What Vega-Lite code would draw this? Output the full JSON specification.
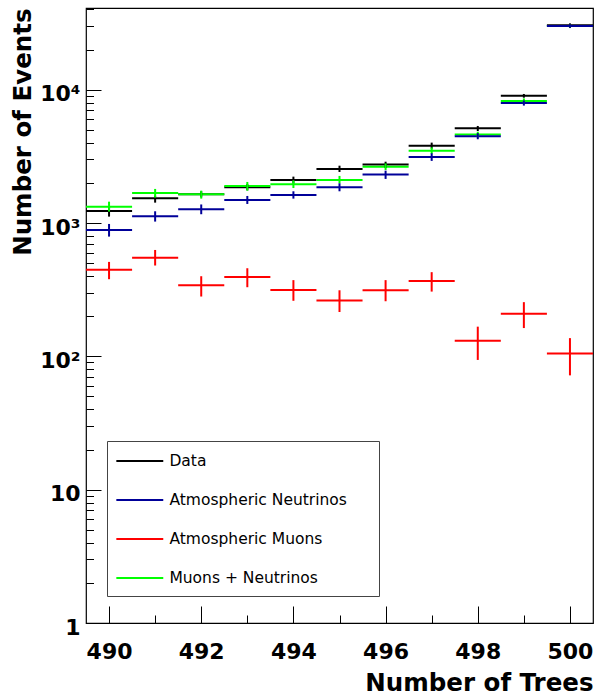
{
  "$schema": "https://vega.github.io/schema/vega-lite/v6.json",
  "autosize": "none",
  "width": 507,
  "height": 615,
  "padding": {"left": 86, "top": 8, "right": 4, "bottom": 74},
  "background": "white",
  "data": {
    "values": [
      {"series": "Data", "bin": 490, "x0": 489.5, "x1": 490.5, "value": 1233, "lo": 1117, "hi": 1321},
      {"series": "Data", "bin": 491, "x0": 490.5, "x1": 491.5, "value": 1535, "lo": 1422, "hi": 1603},
      {"series": "Data", "bin": 492, "x0": 491.5, "x1": 492.5, "value": 1643, "lo": 1560, "hi": 1730},
      {"series": "Data", "bin": 493, "x0": 492.5, "x1": 493.5, "value": 1855, "lo": 1760, "hi": 1960},
      {"series": "Data", "bin": 494, "x0": 493.5, "x1": 494.5, "value": 2104, "lo": 1987, "hi": 2228},
      {"series": "Data", "bin": 495, "x0": 494.5, "x1": 495.5, "value": 2546, "lo": 2415, "hi": 2692},
      {"series": "Data", "bin": 496, "x0": 495.5, "x1": 496.5, "value": 2742, "lo": 2588, "hi": 2884},
      {"series": "Data", "bin": 497, "x0": 496.5, "x1": 497.5, "value": 3802, "lo": 3610, "hi": 4009},
      {"series": "Data", "bin": 498, "x0": 497.5, "x1": 498.5, "value": 5139, "lo": 4900, "hi": 5346},
      {"series": "Data", "bin": 499, "x0": 498.5, "x1": 499.5, "value": 9020, "lo": 8710, "hi": 9290},
      {"series": "Data", "bin": 500, "x0": 499.5, "x1": 500.5, "value": 30400, "lo": 29000, "hi": 31450},
      {"series": "Muons + Neutrinos", "bin": 490, "x0": 489.5, "x1": 490.5, "value": 1327, "lo": 1218, "hi": 1446},
      {"series": "Muons + Neutrinos", "bin": 491, "x0": 490.5, "x1": 491.5, "value": 1682, "lo": 1551, "hi": 1802},
      {"series": "Muons + Neutrinos", "bin": 492, "x0": 491.5, "x1": 492.5, "value": 1643, "lo": 1524, "hi": 1749},
      {"series": "Muons + Neutrinos", "bin": 493, "x0": 492.5, "x1": 493.5, "value": 1897, "lo": 1749, "hi": 2033},
      {"series": "Muons + Neutrinos", "bin": 494, "x0": 493.5, "x1": 494.5, "value": 1955, "lo": 1830, "hi": 2090},
      {"series": "Muons + Neutrinos", "bin": 495, "x0": 494.5, "x1": 495.5, "value": 2104, "lo": 1987, "hi": 2256},
      {"series": "Muons + Neutrinos", "bin": 496, "x0": 495.5, "x1": 496.5, "value": 2648, "lo": 2500, "hi": 2800},
      {"series": "Muons + Neutrinos", "bin": 497, "x0": 496.5, "x1": 497.5, "value": 3490, "lo": 3300, "hi": 3690},
      {"series": "Muons + Neutrinos", "bin": 498, "x0": 497.5, "x1": 498.5, "value": 4603, "lo": 4380, "hi": 4840},
      {"series": "Muons + Neutrinos", "bin": 499, "x0": 498.5, "x1": 499.5, "value": 8230, "lo": 7880, "hi": 8600},
      {"series": "Muons + Neutrinos", "bin": 500, "x0": 499.5, "x1": 500.5, "value": 30000, "lo": 29300, "hi": 30700},
      {"series": "Atmospheric Neutrinos", "bin": 490, "x0": 489.5, "x1": 490.5, "value": 888, "lo": 791, "hi": 984},
      {"series": "Atmospheric Neutrinos", "bin": 491, "x0": 490.5, "x1": 491.5, "value": 1125, "lo": 1025, "hi": 1225},
      {"series": "Atmospheric Neutrinos", "bin": 492, "x0": 491.5, "x1": 492.5, "value": 1269, "lo": 1164, "hi": 1378},
      {"series": "Atmospheric Neutrinos", "bin": 493, "x0": 492.5, "x1": 493.5, "value": 1490, "lo": 1390, "hi": 1596},
      {"series": "Atmospheric Neutrinos", "bin": 494, "x0": 493.5, "x1": 494.5, "value": 1624, "lo": 1524, "hi": 1730},
      {"series": "Atmospheric Neutrinos", "bin": 495, "x0": 494.5, "x1": 495.5, "value": 1855, "lo": 1730, "hi": 1987},
      {"series": "Atmospheric Neutrinos", "bin": 496, "x0": 495.5, "x1": 496.5, "value": 2307, "lo": 2142, "hi": 2472},
      {"series": "Atmospheric Neutrinos", "bin": 497, "x0": 496.5, "x1": 497.5, "value": 3133, "lo": 2924, "hi": 3336},
      {"series": "Atmospheric Neutrinos", "bin": 498, "x0": 497.5, "x1": 498.5, "value": 4477, "lo": 4250, "hi": 4720},
      {"series": "Atmospheric Neutrinos", "bin": 499, "x0": 498.5, "x1": 499.5, "value": 7950, "lo": 7600, "hi": 8300},
      {"series": "Atmospheric Neutrinos", "bin": 500, "x0": 499.5, "x1": 500.5, "value": 30050, "lo": 29200, "hi": 30900},
      {"series": "Atmospheric Muons", "bin": 490, "x0": 489.5, "x1": 490.5, "value": 447, "lo": 379, "hi": 511},
      {"series": "Atmospheric Muons", "bin": 491, "x0": 490.5, "x1": 491.5, "value": 550, "lo": 480, "hi": 628},
      {"series": "Atmospheric Muons", "bin": 492, "x0": 491.5, "x1": 492.5, "value": 342, "lo": 281, "hi": 399},
      {"series": "Atmospheric Muons", "bin": 493, "x0": 492.5, "x1": 493.5, "value": 394, "lo": 330, "hi": 458},
      {"series": "Atmospheric Muons", "bin": 494, "x0": 493.5, "x1": 494.5, "value": 315, "lo": 261, "hi": 373},
      {"series": "Atmospheric Muons", "bin": 495, "x0": 494.5, "x1": 495.5, "value": 262, "lo": 215, "hi": 313},
      {"series": "Atmospheric Muons", "bin": 496, "x0": 495.5, "x1": 496.5, "value": 313, "lo": 259, "hi": 373},
      {"series": "Atmospheric Muons", "bin": 497, "x0": 496.5, "x1": 497.5, "value": 368, "lo": 306, "hi": 428},
      {"series": "Atmospheric Muons", "bin": 498, "x0": 497.5, "x1": 498.5, "value": 131, "lo": 94, "hi": 167},
      {"series": "Atmospheric Muons", "bin": 499, "x0": 498.5, "x1": 499.5, "value": 209, "lo": 163, "hi": 255},
      {"series": "Atmospheric Muons", "bin": 500, "x0": 499.5, "x1": 500.5, "value": 105, "lo": 72, "hi": 137}
    ]
  },
  "layer": [
    {
      "mark": {"type": "rule", "strokeWidth": 2},
      "encoding": {
        "x": {
          "field": "x0", "type": "quantitative",
          "scale": {"domain": [489.5, 500.5], "nice": false, "zero": false},
          "axis": {"orient": "bottom", "values": [490, 492, 494, 496, 498, 500], "format": "d", "tickSize": -17, "labelPadding": 35, "title": "Number of Trees", "titleAnchor": "end", "titlePadding": 9}
        },
        "x2": {"field": "x1"},
        "y": {
          "field": "value", "type": "quantitative",
          "scale": {"type": "log", "domain": [1, 41000], "nice": false},
          "axis": {"orient": "left", "values": [1, 10, 100, 1000, 10000], "tickSize": -15, "labelPadding": 21, "labelOffset": 4, "labelExpr": "datum.value == 1 ? '1' : datum.value == 10 ? '10' : datum.value == 100 ? '10²' : datum.value == 1000 ? '10³' : '10⁴'", "title": "Number of Events", "titleAnchor": "end", "titlePadding": 4}
        },
        "color": {
          "field": "series", "type": "nominal",
          "scale": {"domain": ["Data", "Atmospheric Neutrinos", "Atmospheric Muons", "Muons + Neutrinos"], "range": ["#000000", "#000099", "#ff0000", "#00ff00"]},
          "sort": null,
          "legend": {"orient": "none", "legendX": 21, "legendY": 433, "title": null, "symbolType": "M-2.42,0H2.42", "symbolSize": 376, "symbolStrokeWidth": 2, "symbolOffset": 12.8, "labelFont": "DejaVu Sans", "labelFontSize": 15.5, "labelColor": "black", "labelLimit": 400, "labelOffset": 18.6, "rowPadding": 19, "padding": 9, "strokeColor": "#444444", "fillColor": "white", "labelExpr": "datum.label + '\u2800\u2800'"}
        }
      }
    },
    {
      "mark": {"type": "rule", "strokeWidth": 2},
      "encoding": {
        "x": {
          "field": "bin", "type": "quantitative",
          "axis": {"orient": "bottom", "values": [491, 493, 495, 497, 499], "tickSize": -8, "labels": false, "title": null}
        },
        "y": {
          "field": "lo", "type": "quantitative",
          "axis": {"orient": "left", "values": [2, 3, 4, 5, 6, 7, 8, 9, 20, 30, 40, 50, 60, 70, 80, 90, 200, 300, 400, 500, 600, 700, 800, 900, 2000, 3000, 4000, 5000, 6000, 7000, 8000, 9000, 20000, 30000, 40000], "tickSize": -7.5, "labels": false, "title": null}
        },
        "y2": {"field": "hi"},
        "color": {"field": "series", "type": "nominal"}
      }
    }
  ],
  "resolve": {"axis": {"x": "independent", "y": "independent"}},
  "config": {
    "view": {"stroke": "black", "strokeWidth": 1.2},
    "axis": {"domain": false, "grid": false, "tickColor": "black", "tickWidth": 1, "labelColor": "black", "titleColor": "black", "labelFont": "DejaVu Sans", "labelFontWeight": "bold", "labelFontSize": 22, "titleFont": "DejaVu Sans", "titleFontWeight": "bold", "titleFontSize": 24.5}
  }
}
